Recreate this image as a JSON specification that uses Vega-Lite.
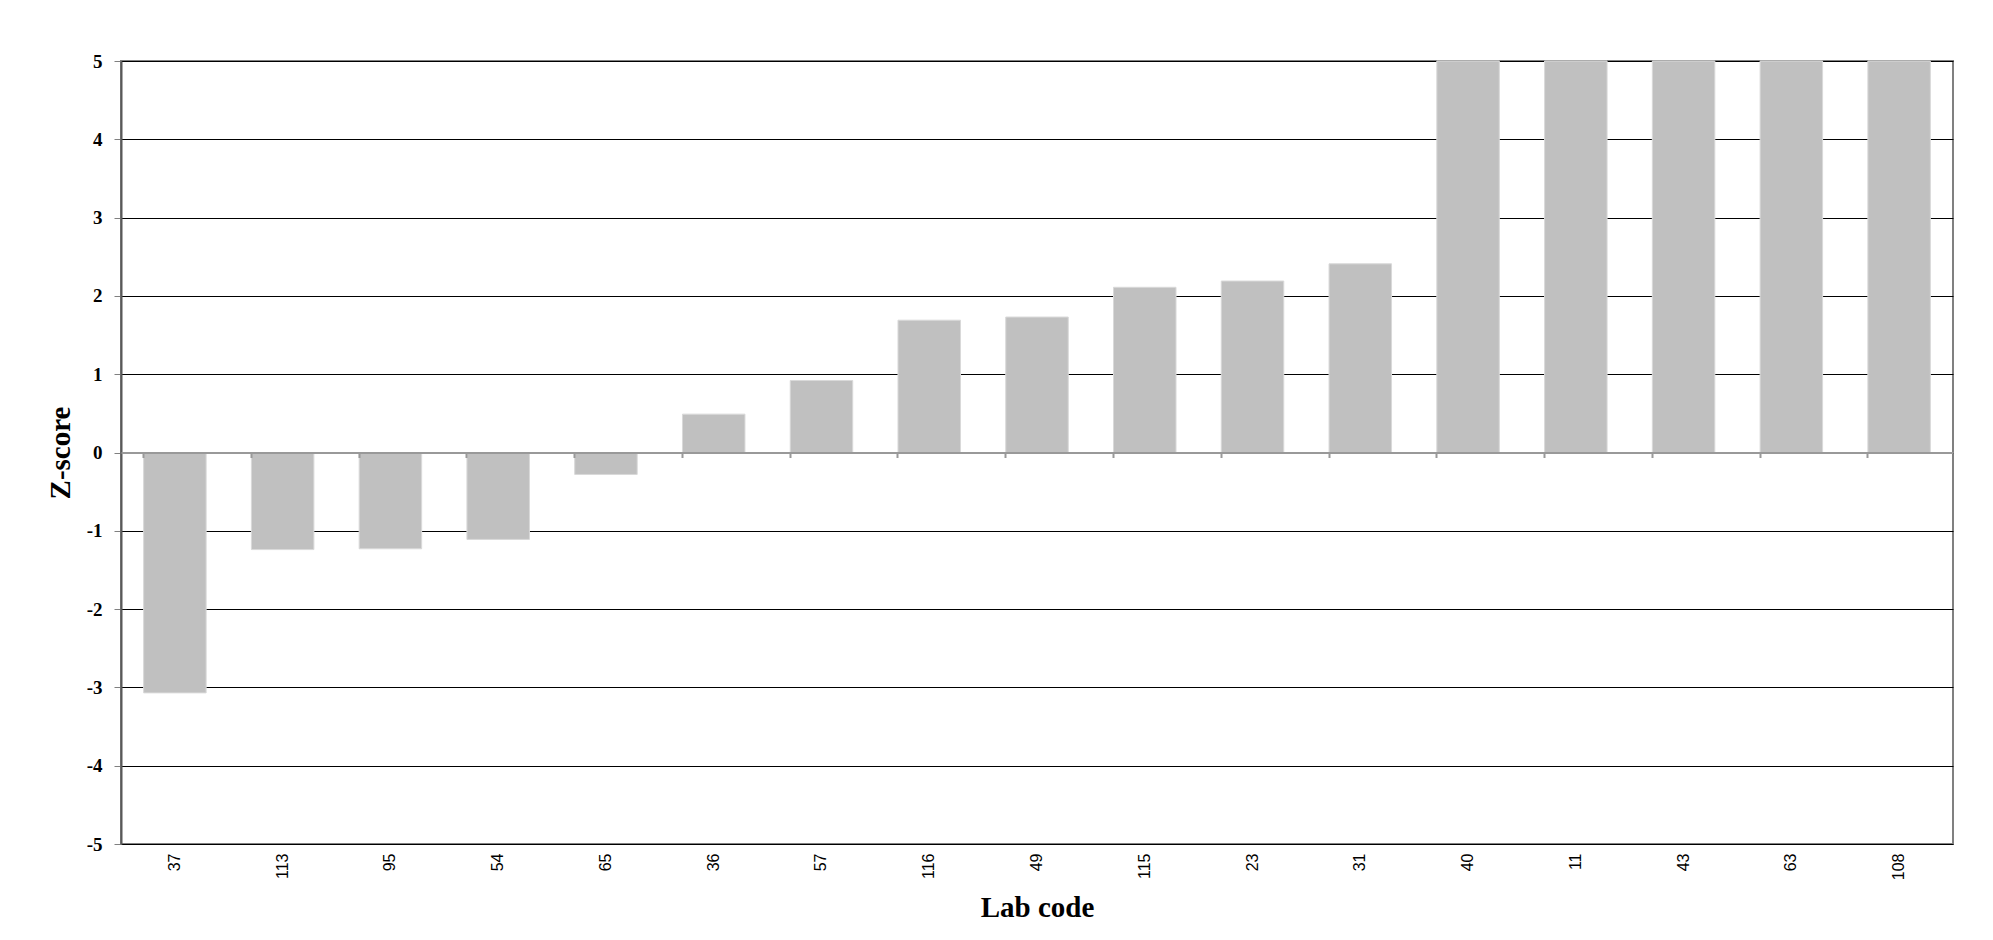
{
  "$schema": "https://vega.github.io/schema/vega-lite/v6.json",
  "width": 1832,
  "height": 783,
  "autosize": {"type": "none"},
  "padding": {"left": 121, "top": 61, "right": 40, "bottom": 96},
  "background": "white",
  "config": {
    "view": {"stroke": "#808080", "strokeWidth": 2},
    "axis": {"labelColor": "black", "titleColor": "black"}
  },
  "data": {
    "values": [
      {"lab": "37", "z": -3.07},
      {"lab": "113", "z": -1.24},
      {"lab": "95", "z": -1.23},
      {"lab": "54", "z": -1.11},
      {"lab": "65", "z": -0.28},
      {"lab": "36", "z": 0.49},
      {"lab": "57", "z": 0.92},
      {"lab": "116", "z": 1.69},
      {"lab": "49", "z": 1.73},
      {"lab": "115", "z": 2.11},
      {"lab": "23", "z": 2.19},
      {"lab": "31", "z": 2.41},
      {"lab": "40", "z": 5},
      {"lab": "11", "z": 5},
      {"lab": "43", "z": 5},
      {"lab": "63", "z": 5},
      {"lab": "108", "z": 5}
    ]
  },
  "layer": [
    {
      "mark": {"type": "bar", "color": "#C0C0C0", "stroke": "#D9D9D9", "strokeWidth": 1},
      "encoding": {
        "x": {
          "field": "lab",
          "type": "nominal",
          "sort": null,
          "scale": {"paddingInner": 0.42, "paddingOuter": 0.21},
          "axis": {
            "orient": "bottom",
            "title": "Lab code",
            "titleFont": "Liberation Serif",
            "titleFontWeight": "bold",
            "titleFontSize": 29,
            "titlePadding": 14,
            "labelFont": "Liberation Sans",
            "labelFontSize": 16,
            "labelAngle": -90,
            "labelPadding": 9,
            "ticks": false,
            "domain": false,
            "grid": false
          }
        },
        "y": {
          "field": "z",
          "type": "quantitative",
          "scale": {"domain": [-5, 5], "nice": false, "zero": false},
          "axis": {
            "title": "Z-score",
            "titleFont": "Liberation Serif",
            "titleFontWeight": "bold",
            "titleFontSize": 29,
            "titlePadding": 11,
            "values": [-5, -4, -3, -2, -1, 0, 1, 2, 3, 4, 5],
            "labelExpr": "'' + datum.value",
            "labelFont": "Liberation Serif",
            "labelFontWeight": "bold",
            "labelFontSize": 19,
            "labelPadding": 12,
            "tickSize": 7,
            "tickColor": "#808080",
            "tickWidth": 1,
            "domainColor": "#595959",
            "domainWidth": 2,
            "grid": true,
            "gridColor": "black",
            "gridWidth": 1
          }
        }
      }
    },
    {
      "mark": {"type": "bar", "opacity": 0},
      "encoding": {
        "x": {
          "field": "lab",
          "type": "nominal",
          "sort": null,
          "axis": {
            "orient": "bottom",
            "offset": -391.5,
            "title": null,
            "labels": false,
            "ticks": true,
            "bandPosition": 0,
            "tickSize": 5,
            "tickColor": "#999999",
            "tickWidth": 2,
            "domain": true,
            "domainColor": "#999999",
            "domainWidth": 2,
            "grid": false,
            "zindex": 1
          }
        },
        "y": {"field": "z", "type": "quantitative"}
      }
    }
  ],
  "resolve": {"axis": {"x": "independent"}}
}
